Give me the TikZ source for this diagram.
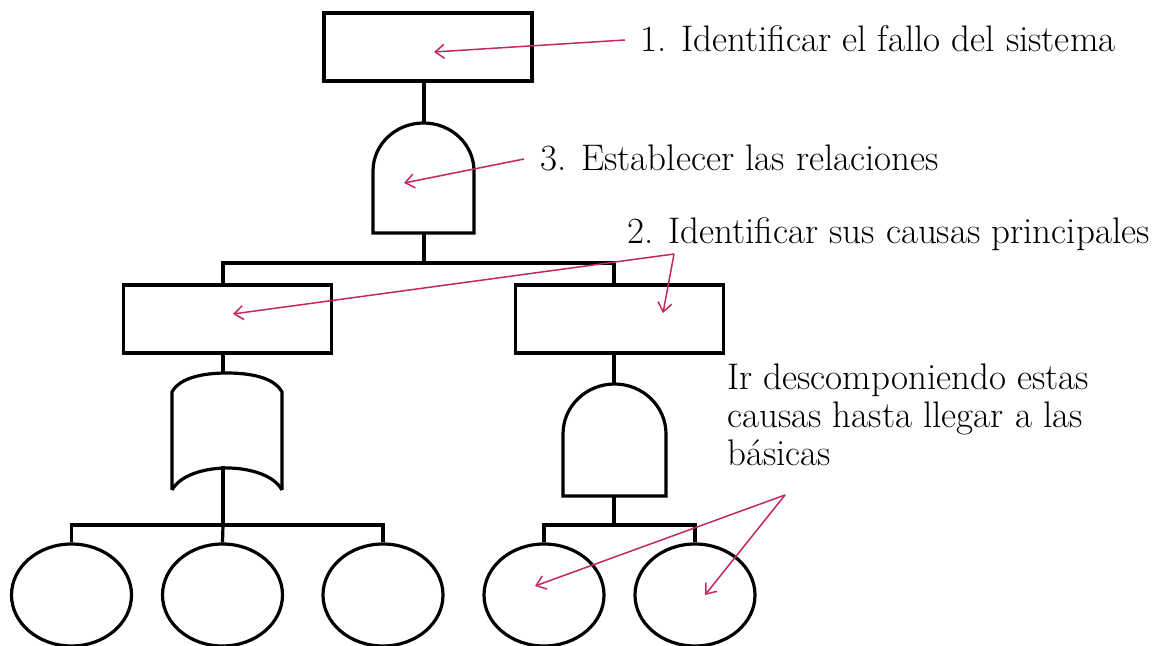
\documentclass[tikz,border=0pt]{standalone}
\usetikzlibrary{arrows.meta,shapes.geometric}
\definecolor{pointer}{RGB}{196,40,92}
\begin{document}
\begin{tikzpicture}[x=1pt,y=1pt,
  line/.style={line width=3.2pt,line join=miter},
  event/.style={draw,line width=3.2pt,minimum width=208pt,minimum height=68pt,inner sep=0pt},
  basic/.style={draw,ellipse,line width=3.2pt,minimum width=120pt,minimum height=102pt,inner sep=0pt},
  pointer/.style={draw=pointer,line width=1.5pt,-{Straight Barb[length=9pt,width=14pt,line width=1.5pt]}},
  label/.style={anchor=base west,inner sep=0pt,font=\fontsize{37}{38}\selectfont},
]
\useasboundingbox (0,0) rectangle (1174,645);

% events
\node[event] (top) at (428,598) {};
\node[event] (midL) at (227.5,326) {};
\node[event] (midR) at (619.5,326) {};

% basic events
\node[basic] (b1) at (71.5,50) {};
\node[basic] (b2) at (222.5,50) {};
\node[basic] (b3) at (383,50) {};
\node[basic] (b4) at (544,50) {};
\node[basic] (b5) at (695,50) {};

% AND gate below the top event
\draw[line] (373,412) -- (373,474) arc[start angle=180,end angle=0,x radius=50.5,y radius=48] -- (474,412) -- cycle;
\coordinate (g1in) at (424,522);
\coordinate (g1out) at (424,412);

% OR gate below the left event
\draw[line] (172,155) -- (172,253)
  .. controls (180,268) and (205,272) .. (227,272)
  .. controls (249,272) and (274,268) .. (282,253) -- (282,155);
\draw[line] (172,155) .. controls (180,170) and (205,177) .. (227,177)
  .. controls (249,177) and (274,170) .. (282,155);
\coordinate (g2in) at (223,271);
\coordinate (g2out) at (223,179);

% AND gate below the right event
\draw[line] (563,149) -- (563,211) arc[start angle=180,end angle=0,x radius=51.5,y radius=50] -- (666,149) -- cycle;
\coordinate (g3in) at (614,261);
\coordinate (g3out) at (614,149);

% connectors
\draw[line] ([xshift=-4pt]top.south) -- (g1in);
\draw[line] (g1out) -- (424,382);
\draw[line] ([xshift=-4.5pt]midL.north) |- (424,382) -| ([xshift=-5.5pt]midR.north);
\draw[line] ([xshift=-4.5pt]midL.south) -- (g2in);
\draw[line] (g2out) -- (223,120);
\draw[line] (b1.north) |- (223,120) -| (b3.north);
\draw[line] (b2.north) -- (223,120);
\draw[line] ([xshift=-5.5pt]midR.south) -- (g3in);
\draw[line] (g3out) -- (614,120);
\draw[line] (b4.north) |- (614,120) -| (b5.north);

% labels
\node[label] (t1) at (640,593) {1. Identificar el fallo del sistema};
\node[label] (t3) at (540,474) {3. Establecer las relaciones};
\node[label] (t2) at (627,401) {2. Identificar sus causas principales};
\node[label] (t4a) at (727,255) {Ir descomponiendo estas};
\node[label] (t4b) at (727,217) {causas hasta llegar a las};
\node[label] (t4c) at (727,179) {básicas};

% pointers
\coordinate (p1) at (625,605);
\coordinate (p3) at (524,486);
\coordinate (p2) at (674,391);
\coordinate (p4) at (785,150);
\draw[pointer] (p1) -- (434,593);
\draw[pointer] (p3) -- (404,462);
\draw[pointer] (p2) -- (233,331);
\draw[pointer] (p2) -- (663,332);
\draw[pointer] (p4) -- (535,59);
\draw[pointer] (p4) -- (705,50);
\end{tikzpicture}
\end{document}
